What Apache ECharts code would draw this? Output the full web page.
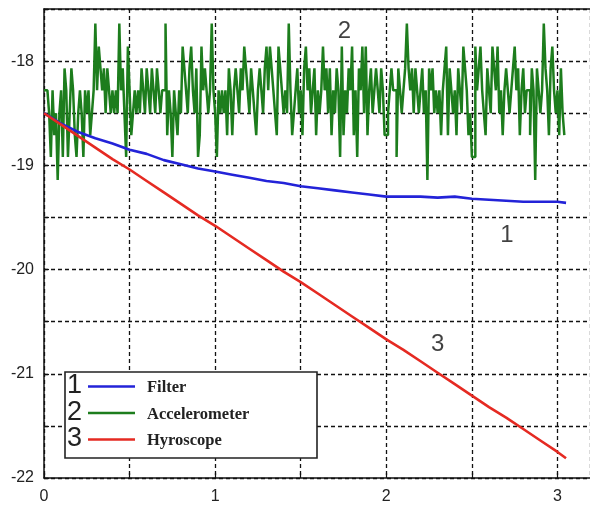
<!DOCTYPE html>
<html>
<head>
<meta charset="utf-8">
<script src="https://cdn.jsdelivr.net/npm/echarts@6/dist/echarts.min.js"></script>
<style>
html,body{margin:0;padding:0;background:#fff;}
#chart{width:590px;height:505px;}
</style>
</head>
<body>
<div id="chart"></div>
<script>
// ---- data ----
const xTickLabels = ['0', '1', '2', '3'];
const yTickLabels = ['-22', '-21', '-20', '-19', '-18'];

const filterX = [0,0.1,0.2,0.3,0.4,0.5,0.6,0.7,0.8,0.9,1.0,1.1,1.2,1.3,1.4,1.5,1.6,1.7,1.8,1.9,2.0,2.1,2.2,2.3,2.4,2.5,2.6,2.7,2.8,2.9,3.0,3.05];
const filterY = [-18.50,-18.60,-18.68,-18.74,-18.79,-18.85,-18.89,-18.95,-18.99,-19.03,-19.06,-19.09,-19.12,-19.15,-19.17,-19.20,-19.22,-19.24,-19.26,-19.28,-19.30,-19.30,-19.30,-19.31,-19.30,-19.32,-19.33,-19.34,-19.35,-19.35,-19.35,-19.36];

const hyroX = [0,0.1,0.2,0.3,0.4,0.5,0.6,0.7,0.8,0.9,1.0,1.1,1.2,1.3,1.4,1.5,1.6,1.7,1.8,1.9,2.0,2.1,2.2,2.3,2.4,2.5,2.6,2.7,2.8,2.9,3.0,3.05];
const hyroY = [-18.50,-18.61,-18.72,-18.83,-18.94,-19.04,-19.15,-19.26,-19.37,-19.48,-19.58,-19.69,-19.80,-19.91,-20.02,-20.12,-20.23,-20.34,-20.45,-20.56,-20.67,-20.77,-20.88,-20.99,-21.10,-21.21,-21.32,-21.42,-21.53,-21.64,-21.75,-21.81];

const accelStep = 0.01; // sample spacing
const accelY = [
-18.28,-18.28,-18.28,-18.5,-18.92,-18.28,-18.71,-18.5,-19.14,-18.5,
-18.28,-18.92,-18.07,-18.28,-18.92,-18.5,-18.07,-18.28,-18.71,-18.92,
-18.5,-18.28,-18.5,-18.92,-18.28,-18.5,-18.28,-18.71,-18.5,-18.28,
-17.64,-18.28,-17.86,-18.07,-18.28,-18.07,-18.5,-18.07,-18.28,-18.5,
-18.28,-18.5,-18.28,-18.5,-17.64,-18.28,-18.07,-18.5,-18.92,-17.86,
-18.28,-18.71,-18.5,-18.28,-18.5,-18.28,-18.5,-18.07,-18.28,-18.5,
-18.07,-18.28,-18.5,-18.07,-18.28,-18.5,-18.07,-18.28,-18.5,-18.28,
-18.28,-17.64,-18.71,-18.28,-18.5,-18.92,-18.28,-18.5,-18.71,-18.28,
-18.5,-17.86,-18.07,-18.28,-18.5,-18.07,-17.86,-18.28,-18.5,-18.07,
-18.92,-18.71,-17.86,-18.28,-18.07,-18.28,-18.5,-18.28,-17.64,-18.28,
-18.5,-18.92,-18.28,-18.5,-18.28,-18.5,-18.28,-18.71,-18.07,-18.28,
-18.71,-18.28,-18.07,-18.28,-18.5,-18.07,-18.28,-17.86,-18.07,-18.28,
-18.5,-18.07,-18.28,-18.5,-18.71,-18.28,-18.07,-18.28,-18.5,-18.07,
-17.86,-18.28,-17.86,-18.07,-18.28,-18.5,-18.71,-17.86,-18.07,-18.28,
-18.5,-18.28,-18.5,-17.64,-18.28,-18.71,-18.5,-18.28,-18.07,-18.5,
-18.28,-18.71,-18.07,-17.86,-18.28,-18.07,-18.5,-18.28,-18.07,-18.71,
-18.28,-18.5,-18.28,-17.86,-18.28,-18.07,-18.5,-18.07,-18.71,-18.28,
-18.5,-18.07,-18.28,-18.92,-17.86,-18.71,-18.28,-18.5,-18.07,-18.28,
-17.86,-18.71,-18.28,-18.92,-18.07,-18.28,-17.86,-18.5,-17.86,-18.71,
-18.28,-18.07,-18.5,-18.28,-18.07,-18.28,-18.5,-18.07,-18.28,-18.71,
-18.71,-18.5,-18.28,-18.07,-18.28,-18.28,-18.92,-18.07,-18.28,-18.5,
-18.28,-18.07,-17.64,-18.07,-18.28,-18.07,-18.5,-18.07,-18.28,-18.5,
-18.28,-18.07,-18.5,-18.28,-19.14,-18.07,-18.28,-18.07,-18.5,-18.28,
-18.5,-18.28,-18.71,-18.28,-18.07,-17.86,-18.71,-18.07,-18.28,-18.5,
-18.28,-18.71,-18.07,-18.28,-18.5,-17.86,-18.07,-18.28,-18.71,-18.5,
-18.92,-18.92,-17.86,-18.28,-18.07,-17.86,-18.28,-18.5,-18.71,-18.07,
-18.28,-18.5,-17.86,-18.07,-18.28,-17.86,-18.5,-18.28,-18.71,-18.28,
-18.07,-18.28,-18.5,-18.28,-18.07,-17.86,-18.28,-18.07,-18.71,-18.28,
-18.07,-18.5,-18.28,-18.28,-18.71,-18.07,-18.28,-19.14,-18.07,-18.28,
-18.5,-18.28,-17.64,-18.07,-18.28,-18.71,-18.07,-17.86,-18.28,-18.5,
-18.28,-18.71,-18.07,-18.5,-18.71
];

const seriesNames = ['Filter', 'Accelerometer', 'Hyroscope'];
const seriesNumbers = ['1', '2', '3'];
const seriesColors = ['#2323d8', '#1d7d1d', '#e52a22'];

// curve number annotations: [x, y, text]
const annotations = [[1.755, -17.71, '2'], [2.705, -19.67, '1'], [2.30, -20.72, '3']];

// ---- chart ----
const isInt = v => Math.abs(v - Math.round(v)) < 1e-6;
const accelData = accelY.map((v, i) => [+(i * accelStep).toFixed(2), v]);
const filterData = filterX.map((x, i) => [x, filterY[i]]);
const hyroData = hyroX.map((x, i) => [x, hyroY[i]]);

const gridDash = {color: '#111', width: 1.3, type: [4, 3]};
const labelFont = {fontFamily: 'Liberation Sans, Arial, sans-serif', fontSize: 16, color: '#222'};

const chart = echarts.init(document.getElementById('chart'));
const legendTop = 372, legendLeft = 65, rowH = 26.5;
const legendGraphics = [{
  type: 'rect', shape: {x: legendLeft, y: legendTop, width: 252, height: 86},
  style: {fill: '#fff', stroke: '#222', lineWidth: 1.6}, z: 100
}];
seriesNames.forEach((name, i) => {
  const cy = legendTop + 14 + i * rowH;
  legendGraphics.push({type: 'text', x: legendLeft + 2, y: cy, z: 101,
    style: {text: seriesNumbers[i], fill: '#222', font: '27px "Liberation Sans", Arial, sans-serif', textVerticalAlign: 'middle', textAlign: 'left'}});
  legendGraphics.push({type: 'line', shape: {x1: legendLeft + 23, y1: cy + 0.5, x2: legendLeft + 70, y2: cy + 0.5}, z: 101,
    style: {stroke: seriesColors[i], lineWidth: 2.6}});
  legendGraphics.push({type: 'text', x: legendLeft + 82, y: cy + 2, z: 101,
    style: {text: name, fill: '#222', font: 'bold 16.5px "Liberation Serif", "Times New Roman", serif', textVerticalAlign: 'middle', textAlign: 'left'}});
});

chart.setOption({
  animation: false,
  backgroundColor: '#fff',
  grid: {left: 44, right: 0, top: 9, bottom: 22, containLabel: false},
  xAxis: [{
    type: 'value', min: 0, max: 3.19, interval: 0.5,
    axisLine: {show: true, onZero: false, lineStyle: {color: '#111', width: 1.5}},
    axisTick: {show: true, inside: true, length: 5, lineStyle: {color: '#111', width: 1.2}},
    axisLabel: Object.assign({margin: 11, showMaxLabel: false, formatter: v => isInt(v) ? xTickLabels[Math.round(v)] : ''}, labelFont),
    splitLine: {show: true, lineStyle: gridDash}
  }, {
    type: 'value', position: 'top', min: 0, max: 3.19, interval: 0.5,
    axisLine: {show: true, lineStyle: {color: '#111', width: 1.5}},
    axisTick: {show: true, inside: true, length: 4, lineStyle: {color: '#111'}},
    axisLabel: {show: false}, splitLine: {show: false}
  }],
  yAxis: {
    type: 'value', min: -22, max: -17.5, interval: 0.5,
    axisLine: {show: true, onZero: false, lineStyle: {color: '#111', width: 1.5}},
    axisTick: {show: true, inside: true, length: 5, lineStyle: {color: '#111', width: 1.2}},
    axisLabel: Object.assign({margin: 10, formatter: v => isInt(v) ? yTickLabels[Math.round(v) + 22] : ''}, labelFont),
    splitLine: {show: true, lineStyle: gridDash}
  },
  series: [{
    name: seriesNames[1], type: 'line', step: 'end', data: accelData, showSymbol: false,
    lineStyle: {color: seriesColors[1], width: 2.5}, z: 2
  }, {
    name: seriesNames[0], type: 'line', data: filterData, showSymbol: false,
    lineStyle: {color: seriesColors[0], width: 2.6}, z: 3
  }, {
    name: seriesNames[2], type: 'line', data: hyroData, showSymbol: false,
    lineStyle: {color: seriesColors[2], width: 2.6}, z: 4
  }, {
    type: 'scatter', symbolSize: 0, z: 5,
    data: annotations.map(a => ({value: [a[0], a[1]], name: a[2]})),
    label: {show: true, position: 'inside', formatter: p => p.name,
      fontFamily: 'Liberation Sans, Arial, sans-serif', fontSize: 24, color: '#111'}
  }],
  graphic: legendGraphics
});
</script>
</body>
</html>
